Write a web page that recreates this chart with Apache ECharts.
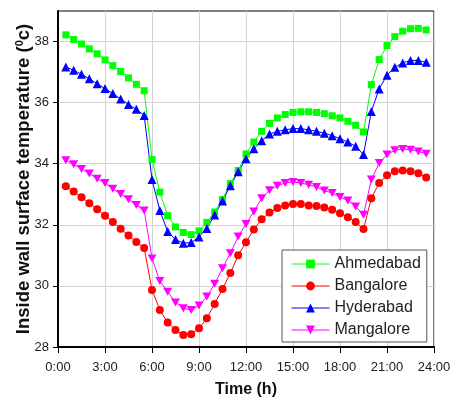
<!DOCTYPE html>
<html>
<head>
<meta charset="utf-8">
<script src="https://cdn.jsdelivr.net/npm/echarts@6/dist/echarts.min.js"></script>
<style>html,body{margin:0;padding:0;background:#fff}#c{width:452px;height:399px}</style>
</head>
<body>
<div id="c"></div>
<script>
var hours = [0.5,1.0,1.5,2.0,2.5,3.0,3.5,4.0,4.5,5.0,5.5,6.0,6.5,7.0,7.5,8.0,8.5,9.0,9.5,10.0,10.5,11.0,11.5,12.0,12.5,13.0,13.5,14.0,14.5,15.0,15.5,16.0,16.5,17.0,17.5,18.0,18.5,19.0,19.5,20.0,20.5,21.0,21.5,22.0,22.5,23.0,23.5];
var ahmedabad = [38.22,38.07,37.92,37.76,37.60,37.40,37.21,37.02,36.81,36.60,36.39,34.14,33.07,32.30,31.93,31.75,31.68,31.80,32.08,32.42,32.83,33.35,33.78,34.32,34.71,35.06,35.32,35.50,35.61,35.68,35.70,35.70,35.68,35.64,35.57,35.50,35.39,35.26,35.04,36.59,37.41,37.87,38.16,38.34,38.42,38.43,38.38];
var bangalore = [33.26,33.09,32.90,32.71,32.51,32.30,32.09,31.87,31.65,31.44,31.24,29.87,29.21,28.80,28.56,28.39,28.42,28.61,28.94,29.41,29.90,30.42,31.00,31.43,31.85,32.18,32.40,32.55,32.63,32.68,32.68,32.63,32.62,32.57,32.49,32.38,32.25,32.09,31.86,32.87,33.37,33.62,33.75,33.78,33.75,33.69,33.55];
var hyderabad = [37.17,37.06,36.93,36.78,36.62,36.46,36.30,36.12,35.94,35.78,35.58,33.48,32.47,31.78,31.52,31.40,31.42,31.60,31.88,32.32,32.78,33.28,33.74,34.16,34.49,34.75,34.97,35.06,35.11,35.15,35.15,35.11,35.06,35.00,34.92,34.82,34.71,34.57,34.30,35.71,36.45,36.90,37.16,37.30,37.38,37.38,37.32];
var mangalore = [34.11,33.98,33.83,33.68,33.51,33.37,33.18,33.01,32.84,32.65,32.47,30.90,30.16,29.81,29.46,29.27,29.21,29.36,29.65,30.07,30.58,31.07,31.62,32.03,32.44,32.87,33.13,33.28,33.37,33.40,33.37,33.31,33.24,33.12,33.04,32.91,32.80,32.60,32.33,33.48,34.02,34.30,34.44,34.48,34.46,34.40,34.33];
var yTicks = [28,30,32,34,36,38];
var seriesNames = ['Ahmedabad','Bangalore','Hyderabad','Mangalore'];

function pairs(vals){ return hours.map(function(h,i){ return [h, vals[i]]; }); }

var font = 'Liberation Sans, Arial, sans-serif';
var chart = echarts.init(document.getElementById('c'), null, {renderer:'canvas'});
function mk(name, vals, color, symbol, size){
  return {
    name: name, type: 'line', data: pairs(vals),
    symbol: symbol, symbolSize: size,
    lineStyle: {color: color, width: 1},
    itemStyle: {color: color},
    emphasis: {disabled: true},
    animation: false
  };
}
chart.setOption({
  backgroundColor: '#fff',
  animation: false,
  grid: {left: 58, right: 18, top: 11, bottom: 52, show: true, borderColor: '#000', borderWidth: 1, backgroundColor: 'transparent', containLabel: false, outerBoundsMode: 'none'},
  xAxis: {
    type: 'value', min: 0, max: 24, interval: 3,
    name: 'Time (h)', nameLocation: 'middle', nameGap: 35, nameMoveOverlap: false,
    nameTextStyle: {fontFamily: font, fontSize: 16, fontWeight: 'bold', color: '#111'},
    axisLine: {lineStyle: {color: '#000', width: 2}},
    axisTick: {show: true, length: 6, lineStyle: {color: '#000', width: 1}},
    axisLabel: {margin: 14, fontFamily: font, fontSize: 13, color: '#222', formatter: function(v){ return v + ':00'; }},
    splitLine: {show: true, lineStyle: {color: '#d4d4d4', width: 1}}
  },
  yAxis: {
    type: 'value', min: 28, max: 39, interval: 2,
    name: 'Inside wall surface temperature ({sup|0}c)', nameLocation: 'middle', nameGap: 25, nameMoveOverlap: false,
    nameTextStyle: {fontFamily: font, fontSize: 18.5, fontWeight: 'bold', color: '#111',
      rich: {sup: {fontFamily: font, fontSize: 11, fontWeight: 'bold', color: '#111', padding: [0,0,8,0]}}},
    axisLine: {lineStyle: {color: '#000', width: 2}},
    axisTick: {show: true, length: 5, customValues: yTicks, lineStyle: {color: '#000', width: 1}},
    axisLabel: {margin: 9, fontFamily: font, fontSize: 13, color: '#222', customValues: yTicks},
    splitLine: {show: true, lineStyle: {color: '#d4d4d4', width: 1}}
  },
  legend: {
    data: seriesNames, orient: 'vertical', left: 282, top: 250,
    backgroundColor: '#fff', borderColor: '#555', borderWidth: 1, borderRadius: 0,
    padding: [6, 6, 4, 9], itemWidth: 38, itemHeight: 11, itemGap: 6,
    lineStyle: {width: 1},
    textStyle: {fontFamily: font, fontSize: 16, color: '#222'},
    selectedMode: false
  },
  series: [
    mk(seriesNames[0], ahmedabad, '#00ff00', 'rect', 7),
    mk(seriesNames[1], bangalore, '#ff0000', 'circle', 8),
    mk(seriesNames[2], hyderabad, '#0000ff', 'triangle', 9),
    mk(seriesNames[3], mangalore, '#ff00ff', 'path://M0,0L2,0L1,1.8Z', [9,8])
  ]
});
</script>
</body>
</html>
